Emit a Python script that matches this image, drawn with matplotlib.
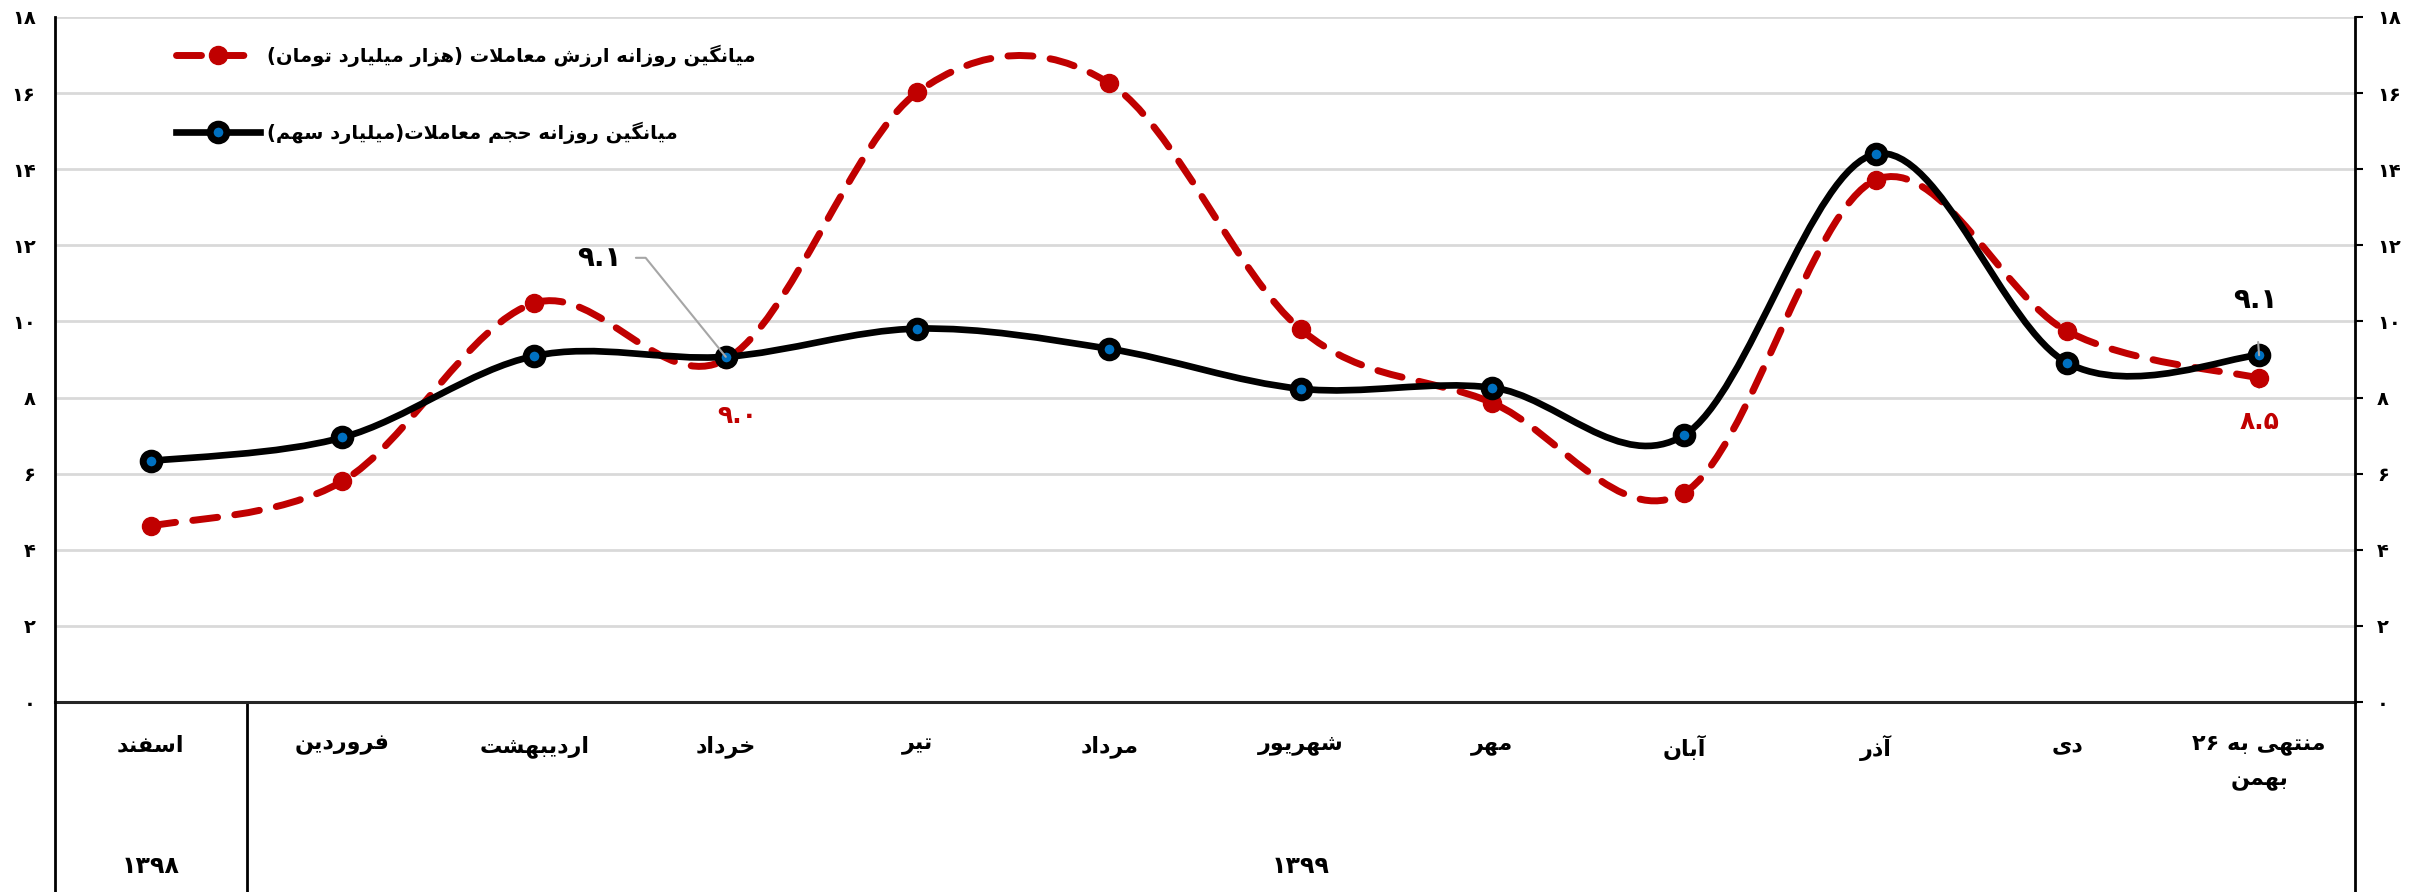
import re
import matplotlib
matplotlib.use("Agg")
import matplotlib.pyplot as plt
from matplotlib.path import Path
from matplotlib.patches import PathPatch
from matplotlib.lines import Line2D

plt.rcParams['font.family'] = ['DejaVu Sans']
plt.rcParams['font.weight'] = 'bold'

# data
months = ['اسفند', 'فروردین', 'اردیبهشت', 'خرداد', 'تیر', 'مرداد', 'شهریور',
          'مهر', 'آبان', 'آذر', 'دی', 'منتهی به ۲۶\nبهمن']
years = ['۱۳۹۸', '۱۳۹۹']
year_span = [(0, 0), (1, 11)]
value = [4.62, 5.80, 10.48, 9.0, 16.02, 16.26, 9.79, 7.86, 5.50, 13.72, 9.74, 8.51]
volume = [6.33, 6.95, 9.09, 9.07, 9.81, 9.28, 8.23, 8.26, 7.01, 14.40, 8.91, 9.11]
value_name = 'میانگین روزانه ارزش معاملات (هزار میلیارد تومان)'
volume_name = 'میانگین روزانه حجم معاملات(میلیارد سهم)'
yticks = [0, 2, 4, 6, 8, 10, 12, 14, 16, 18]

RED = '#C00000'
BLUE = '#0070C0'

# matplotlib has no arabic shaping, so pick presentation forms by hand
FORMS = {
    'ا': 'FE8D FE8E', 'آ': 'FE81 FE82', 'ب': 'FE8F FE90 FE91 FE92',
    'پ': 'FB56 FB57 FB58 FB59', 'ت': 'FE95 FE96 FE97 FE98',
    'ج': 'FE9D FE9E FE9F FEA0', 'چ': 'FB7A FB7B FB7C FB7D',
    'ح': 'FEA1 FEA2 FEA3 FEA4', 'خ': 'FEA5 FEA6 FEA7 FEA8',
    'د': 'FEA9 FEAA', 'ذ': 'FEAB FEAC', 'ر': 'FEAD FEAE', 'ز': 'FEAF FEB0',
    'ژ': 'FB8A FB8B', 'س': 'FEB1 FEB2 FEB3 FEB4', 'ش': 'FEB5 FEB6 FEB7 FEB8',
    'ع': 'FEC9 FECA FECB FECC', 'ف': 'FED1 FED2 FED3 FED4',
    'ق': 'FED5 FED6 FED7 FED8', 'ک': 'FB8E FB8F FB90 FB91',
    'گ': 'FB92 FB93 FB94 FB95', 'ل': 'FEDD FEDE FEDF FEE0',
    'م': 'FEE1 FEE2 FEE3 FEE4', 'ن': 'FEE5 FEE6 FEE7 FEE8',
    'ه': 'FEE9 FEEA FEEB FEEC', 'و': 'FEED FEEE', 'ی': 'FBFC FBFD FBFE FBFF',
}
FORMS = {k: [chr(int(h, 16)) for h in v.split()] for k, v in FORMS.items()}
LAMALEF = {'ا': ('\uFEFB', '\uFEFC'), 'آ': ('\uFEF5', '\uFEF6')}
MIRROR = {'(': ')', ')': '('}


def fa(text):
    lines = []
    for line in text.split('\n'):
        ch = list(line)
        out = []
        i = 0
        while i < len(ch):
            c = ch[i]
            if c not in FORMS:
                out.append(c)
                i += 1
                continue
            prev = i > 0 and ch[i - 1] in FORMS and len(FORMS[ch[i - 1]]) == 4
            if c == 'ل' and i + 1 < len(ch) and ch[i + 1] in LAMALEF:
                out.append(LAMALEF[ch[i + 1]][1 if prev else 0])
                i += 2
                continue
            f = FORMS[c]
            nxt = len(f) == 4 and i + 1 < len(ch) and ch[i + 1] in FORMS
            if prev and nxt:
                out.append(f[3])
            elif prev:
                out.append(f[1])
            elif nxt:
                out.append(f[2])
            else:
                out.append(f[0])
            i += 1
        toks = re.findall(r'[0-9\u06F0-\u06F9.]+|[^0-9\u06F0-\u06F9.]', ''.join(out))
        lines.append(''.join(MIRROR.get(t, t) for t in reversed(toks)))
    return '\n'.join(lines)


def fa_num(v, fmt='{:.1f}'):
    s = fmt.format(v)
    return s.translate(str.maketrans('0123456789', '۰۱۲۳۴۵۶۷۸۹'))


def smooth_path(ys):
    # excel-like smoothed line (catmull-rom as cubic bezier)
    pts = list(enumerate(ys))
    verts = [pts[0]]
    codes = [Path.MOVETO]
    for i in range(len(pts) - 1):
        p0 = pts[max(i - 1, 0)]
        p1 = pts[i]
        p2 = pts[i + 1]
        p3 = pts[min(i + 2, len(pts) - 1)]
        c1 = (p1[0] + (p2[0] - p0[0]) / 6, p1[1] + (p2[1] - p0[1]) / 6)
        c2 = (p2[0] - (p3[0] - p1[0]) / 6, p2[1] - (p3[1] - p1[1]) / 6)
        verts += [c1, c2, p2]
        codes += [Path.CURVE4] * 3
    return Path(verts, codes)


fig = plt.figure(figsize=(24.23, 8.92), dpi=100)
ax = fig.add_axes([0.0227, 0.213, 0.9492, 0.768])
x = list(range(len(months)))

DASH = (0, (3.6, 2.5))
ax.add_patch(PathPatch(smooth_path(value), fill=False, edgecolor=RED, lw=5,
                       linestyle=DASH, capstyle='round', zorder=3))
ax.plot(x, value, ls='none', marker='o', ms=13, mfc=RED, mec=RED, zorder=4)
ax.add_patch(PathPatch(smooth_path(volume), fill=False, edgecolor='black', lw=4.8,
                       capstyle='round', zorder=5))
ax.plot(x, volume, ls='none', marker='o', ms=12, mfc=BLUE, mec='black', mew=5, zorder=6)

ax.set_xlim(-0.5, len(months) - 0.5)
ax.set_ylim(0, 18)
ax.set_yticks(yticks)
ax.set_yticklabels([fa_num(t, '{:d}') for t in yticks], fontsize=14)
ax.tick_params(axis='y', length=0, pad=14)
ax.yaxis.grid(True, color='#D9D9D9', lw=2)
ax.set_axisbelow(True)
for s in ['top', 'left', 'right']:
    ax.spines[s].set_visible(False)
ax.spines['bottom'].set_linewidth(2.2)
ax.spines['bottom'].set_color('#262626')

ax.set_xticks(x)
ax.set_xticklabels([fa(m) for m in months], fontsize=16, va='top', linespacing=1.9)
ax.tick_params(axis='x', length=0, pad=24)

ax2 = ax.twinx()
ax2.set_ylim(0, 18)
ax2.set_yticks(yticks)
ax2.set_yticklabels([fa_num(t, '{:d}') for t in yticks], fontsize=14)
ax2.tick_params(axis='y', length=6, width=1.5, pad=10)
for s in ['top', 'left', 'bottom', 'right']:
    ax2.spines[s].set_visible(False)

# frame lines that run down through the category area
for xv in [-0.5, 11.5]:
    ax.axvline(xv, ymin=-0.3, ymax=1, color='black', lw=2, clip_on=False, zorder=7)
ax.axvline(0.5, ymin=-0.3, ymax=0, color='black', lw=2, clip_on=False)

for yr, (a, b) in zip(years, year_span):
    ax.text((a + b) / 2, -0.24, fa(yr), transform=ax.get_xaxis_transform(),
            ha='center', va='center', fontsize=17, fontweight='bold')

# data labels
i = 3
ax.annotate(fa_num(volume[i]), xy=(i, volume[i]), xytext=(-126, 99),
            textcoords='offset pixels', ha='center', va='center', fontsize=20,
            arrowprops=dict(arrowstyle='-', color='#A6A6A6', lw=1.5, relpos=(1, 0.5),
                            connectionstyle='angle,angleA=0,angleB=129,rad=0',
                            shrinkA=8, shrinkB=0), zorder=8)
ax.annotate(fa_num(value[i]), xy=(i, value[i]), xytext=(11, -57),
            textcoords='offset pixels', ha='center', va='center', fontsize=18, color=RED)
i = 11
ax.annotate(fa_num(volume[i]), xy=(i, volume[i]), xytext=(-4, 55),
            textcoords='offset pixels', ha='center', va='center', fontsize=20,
            arrowprops=dict(arrowstyle='-', color='#A6A6A6', lw=1.5,
                            shrinkA=18, shrinkB=0), zorder=8)
ax.annotate(fa_num(value[i]), xy=(i, value[i]), xytext=(0, -44),
            textcoords='offset pixels', ha='center', va='center', fontsize=18, color=RED,
            arrowprops=dict(arrowstyle='-', color='#A6A6A6', lw=1.5,
                            shrinkA=14, shrinkB=0))

handles = [
    Line2D([], [], color=RED, lw=5, ls=DASH, dash_capstyle='round',
           marker='o', ms=13, mfc=RED, mec=RED),
    Line2D([], [], color='black', lw=4.8, marker='o', ms=12, mfc=BLUE, mec='black', mew=5),
]
ax.legend(handles, [fa(value_name), fa(volume_name)], loc='upper left',
          bbox_to_anchor=(0.045, 0.985), frameon=False, fontsize=14,
          handlelength=4.3, handletextpad=0.4, labelspacing=2.8, numpoints=1)

fig.savefig('out.png', dpi=100)
